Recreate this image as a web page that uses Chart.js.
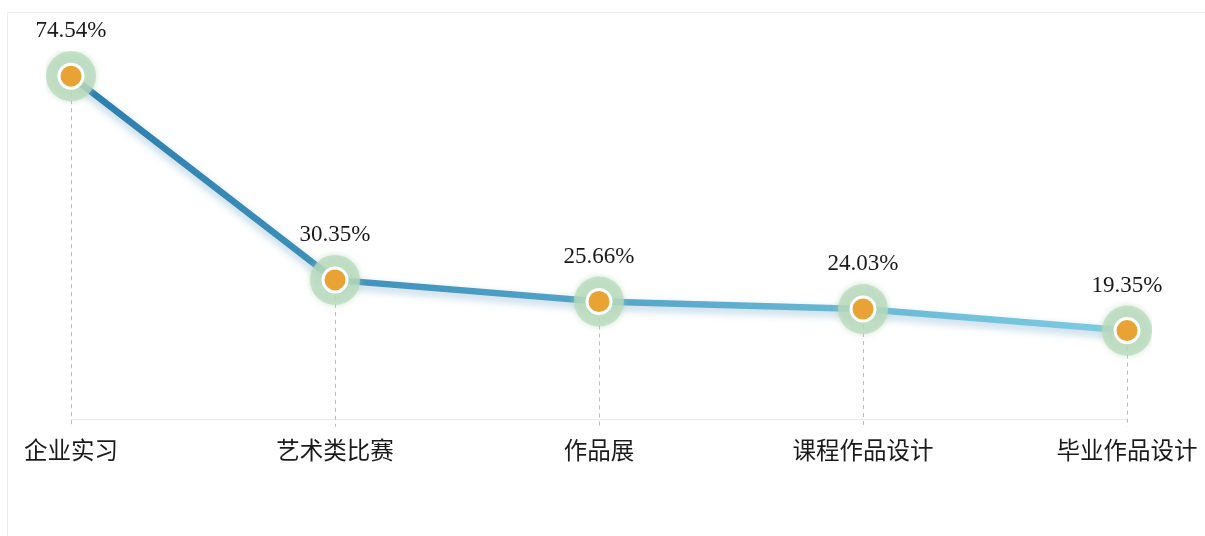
<!DOCTYPE html>
<html>
<head>
<meta charset="utf-8">
<script src="https://cdn.jsdelivr.net/npm/chart.js@4"></script>
<style>
  html, body { margin: 0; padding: 0; background: #fff; overflow: hidden; }
  #frame { position: absolute; left: 7px; top: 12px; width: 1300px; height: 600px; border: 1px solid #ececec; }
  #wrap { position: absolute; left: 0; top: 0; width: 1205px; height: 536px; }
</style>
</head>
<body>
<div id="frame"></div>
<div id="wrap"><canvas id="chart"></canvas></div>
<script>
const categories = ["企业实习", "艺术类比赛", "作品展", "课程作品设计", "毕业作品设计"];
const values = [74.54, 30.35, 25.66, 24.03, 19.35];
const valueLabels = ["74.54%", "30.35%", "25.66%", "24.03%", "19.35%"];

// dashed drop lines from each point to the axis
const dropLines = {
  id: "dropLines",
  beforeDatasetsDraw(chart) {
    const ctx = chart.ctx;
    const x = chart.scales.x, y = chart.scales.y;
    ctx.save();
    ctx.strokeStyle = "#bbbbbb";
    ctx.lineWidth = 1;
    ctx.setLineDash([4, 4]);
    values.forEach((v, i) => {
      const px = Math.round(x.getPixelForValue(i)) + 0.5;
      ctx.beginPath();
      ctx.moveTo(px, y.getPixelForValue(v));
      ctx.lineTo(px, y.getPixelForValue(0) + 7);
      ctx.stroke();
    });
    ctx.restore();
  }
};

const lineShadow = {
  id: "lineShadow",
  beforeDatasetDraw(chart, args) {
    const ctx = chart.ctx;
    if (args.index === 0) {
      ctx.save();
      ctx.shadowColor = "rgba(40,120,170,0.35)";
      ctx.shadowBlur = 8;
      ctx.shadowOffsetY = 4;
    } else if (args.index === 1) {
      ctx.save();
      ctx.shadowColor = "rgba(170,210,175,0.8)";
      ctx.shadowBlur = 6;
    }
  },
  afterDatasetDraw(chart, args) {
    if (args.index === 0 || args.index === 1) chart.ctx.restore();
  }
};

const valueText = {
  id: "valueText",
  afterDatasetsDraw(chart) {
    const ctx = chart.ctx;
    const meta = chart.getDatasetMeta(2);
    ctx.save();
    ctx.font = '23px "Liberation Serif", "Times New Roman", serif';
    ctx.fillStyle = "#1a1a1a";
    ctx.textAlign = "center";
    ctx.textBaseline = "middle";
    meta.data.forEach((pt, i) => {
      ctx.fillText(valueLabels[i], pt.x, pt.y - 45);
    });
    ctx.restore();
  }
};

function lineGradient(context) {
  const area = context.chart.chartArea;
  if (!area) return "#3a8fbf";
  const g = context.chart.ctx.createLinearGradient(area.left, 0, area.right, 0);
  g.addColorStop(0, "#2a7dae");
  g.addColorStop(1, "#7fcce2");
  return g;
}

new Chart(document.getElementById("chart"), {
  type: "line",
  data: {
    labels: categories,
    datasets: [
      {
        data: values,
        borderColor: lineGradient,
        borderWidth: 6.5,
        pointRadius: 0,
        tension: 0,
        order: 3
      },
      {
        data: values,
        showLine: false,
        pointRadius: 25,
        pointBackgroundColor: "rgba(185,218,188,0.72)",
        pointBorderWidth: 0,
        order: 2
      },
      {
        data: values,
        showLine: false,
        pointRadius: 12,
        pointBackgroundColor: "#e9a234",
        pointBorderColor: "#ffffff",
        pointBorderWidth: 3,
        order: 1
      }
    ]
  },
  options: {
    responsive: true,
    maintainAspectRatio: false,
    animation: false,
    events: [],
    layout: { padding: { left: 71, right: 78, top: 51, bottom: 56 } },
    plugins: { legend: { display: false }, tooltip: { enabled: false } },
    scales: {
      x: {
        offset: false,
        grid: { display: false, drawTicks: false },
        border: { display: true, color: "#e8e8e8", width: 1 },
        afterFit(scale) {
          scale.paddingLeft = 0;
          scale.paddingRight = 0;
        },
        ticks: {
          color: "#1a1a1a",
          padding: 16,
          maxRotation: 0,
          font: { family: '"Noto Sans CJK SC", sans-serif', size: 23.5 }
        }
      },
      y: {
        display: false,
        min: 0,
        max: 80
      }
    }
  },
  plugins: [dropLines, lineShadow, valueText]
});
</script>
</body>
</html>
